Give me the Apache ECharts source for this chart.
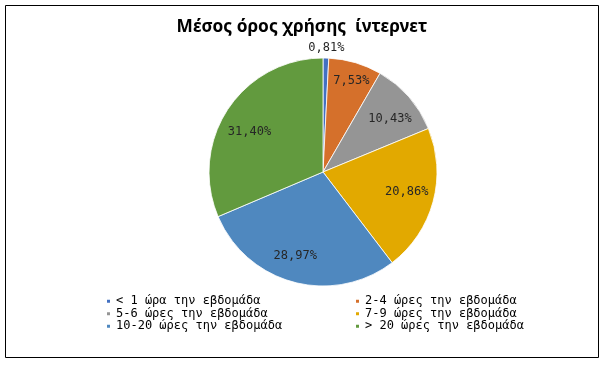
<!DOCTYPE html>
<html><head><meta charset="utf-8">
<script src="https://cdn.jsdelivr.net/npm/echarts@6/dist/echarts.min.js"></script>
<style>html,body{margin:0;padding:0;background:#fff}#c{width:604px;height:365px}</style>
</head><body><div id="c"></div>
<script>
const titleText = 'Μέσος όρος χρήσης  ίντερνετ';
const categories = ['< 1 ώρα την εβδομάδα','2-4 ώρες την εβδομάδα','5-6 ώρες την εβδομάδα','7-9 ώρες την εβδομάδα','10-20 ώρες την εβδομάδα','> 20 ώρες την εβδομάδα'];
const values = [0.81, 7.53, 10.43, 20.86, 28.97, 31.40];
const colors = ['#4371C2','#D5702B','#959595','#E2A900','#4F88BF','#629A3E'];
const labelOffsets = [[1,-31],[2,-2],[-3,8],[-6,-4],[-4,-6],[4,11]];

const fmt = v => v.toFixed(2).replace('.', ',') + '%';
const chart = echarts.init(document.getElementById('c'), null, {renderer:'canvas'});
const mono = '"DejaVu Sans Mono", monospace';
const legendCommon = {orient:'vertical',top:295,padding:0,itemWidth:5,itemHeight:5,itemGap:0,icon:'rect',
  textStyle:{fontFamily:mono,fontSize:12,color:'#000',lineHeight:12.5}};
chart.setOption({
  animation:false,
  color: colors,
  title:{text:titleText,left:297,textAlign:'center',top:14,textStyle:{fontFamily:'"Noto Sans", sans-serif',fontWeight:'bold',fontSize:17.3,color:'#000'}},
  graphic:[{type:'rect',shape:{x:5.5,y:5.5,width:593,height:352},style:{fill:'none',stroke:'#000',lineWidth:1},silent:true}],
  legend:[
    Object.assign({left:105,data:[categories[0],categories[2],categories[4]]}, legendCommon),
    Object.assign({left:354,data:[categories[1],categories[3],categories[5]]}, legendCommon)
  ],
  series:[
    {type:'pie',center:[323,172],radius:[0,114],startAngle:90,clockwise:true,
     label:{show:false},labelLine:{show:false},
     itemStyle:{borderColor:'#fff',borderWidth:0.8},
     data:categories.map((c,i)=>({name:c,value:values[i]}))},
    {type:'pie',center:[323,172],radius:[0,180],startAngle:90,clockwise:true,silent:true,
     legendHoverLink:false,
     itemStyle:{color:'rgba(0,0,0,0)'},
     labelLine:{show:false},
     data:categories.map((c,i)=>({name:c+' ',value:values[i],
        label:{show:true,position:'inside',offset:labelOffsets[i],formatter:()=>fmt(values[i]),
          fontFamily:mono,fontSize:12,color:'#262626'}}))}
  ]
});
</script></body></html>
